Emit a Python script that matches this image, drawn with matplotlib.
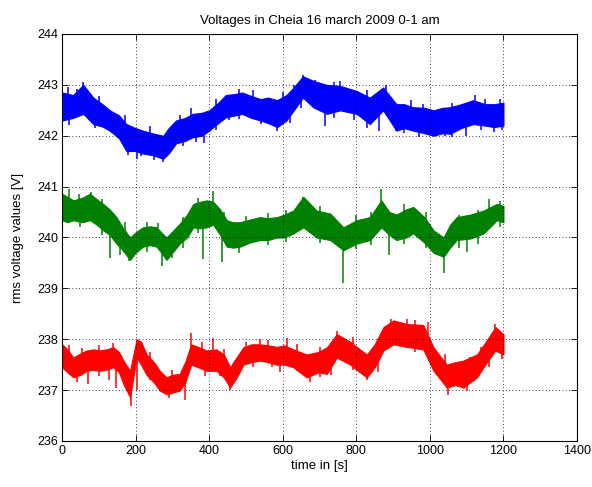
import matplotlib
matplotlib.use("Agg")
import matplotlib.pyplot as plt
import numpy as np

plt.rcParams["font.family"] = ["Liberation Sans", "DejaVu Sans"]

# envelope of each trace (time in s, lower / upper voltage)
blue_t = [0, 30, 58, 85, 110, 130, 155, 175, 200, 220, 245, 275, 290, 310, 335, 355, 380, 400, 425, 445,
          470, 490, 515, 540, 560, 585, 610, 630, 655, 683, 720, 756, 801, 837, 873, 909, 930, 955,
          985, 1010, 1035, 1055, 1085, 1118, 1150, 1174, 1200]
blue_lo = [242.30, 242.35, 242.43, 242.23, 242.18, 242.10, 241.95, 241.70, 241.70, 241.65, 241.62, 241.55,
           241.65, 241.85, 241.90, 241.97, 242.00, 242.10, 242.25, 242.36, 242.40, 242.43, 242.35, 242.30,
           242.25, 242.17, 242.30, 242.50, 242.75, 242.56, 242.43, 242.50, 242.43, 242.23, 242.50, 242.10,
           242.15, 242.10, 242.05, 242.00, 242.05, 242.04, 242.15, 242.23, 242.20, 242.17, 242.20]
blue_hi = [242.85, 242.80, 243.00, 242.75, 242.62, 242.50, 242.40, 242.23, 242.15, 242.10, 242.05, 242.00,
           242.15, 242.30, 242.35, 242.43, 242.45, 242.50, 242.65, 242.80, 242.82, 242.85, 242.78, 242.72,
           242.75, 242.70, 242.80, 242.95, 243.17, 243.08, 243.00, 242.98, 242.88, 242.75, 242.95, 242.62,
           242.62, 242.56, 242.55, 242.50, 242.55, 242.56, 242.62, 242.70, 242.62, 242.62, 242.65]

green_t = [0, 15, 31, 55, 76, 95, 112, 130, 148, 165, 185, 200, 220, 240, 257, 270, 284, 300, 320, 340,
           357, 375, 393, 411, 430, 448, 465, 484, 510, 538, 560, 584, 605, 629, 656, 692, 729, 765,
           801, 837, 868, 890, 909, 935, 955, 985, 1010, 1037, 1055, 1073, 1110, 1146, 1182, 1200]
green_lo = [240.34, 240.30, 240.34, 240.30, 240.34, 240.25, 240.14, 240.05, 239.88, 239.75, 239.56, 239.70,
            239.82, 239.85, 239.82, 239.70, 239.56, 239.70, 239.88, 240.00, 240.20, 240.18, 240.20, 240.25,
            240.05, 239.82, 239.80, 239.82, 239.90, 239.95, 239.95, 240.00, 240.00, 240.08, 240.20, 240.00,
            239.95, 239.75, 239.88, 239.95, 240.20, 240.05, 239.95, 240.00, 240.08, 239.90, 239.70, 239.62,
            239.80, 239.95, 239.98, 240.08, 240.34, 240.30]
green_hi = [240.86, 240.80, 240.73, 240.78, 240.86, 240.75, 240.66, 240.55, 240.40, 240.20, 240.00, 240.10,
            240.20, 240.22, 240.20, 240.10, 240.00, 240.12, 240.27, 240.45, 240.66, 240.70, 240.73, 240.70,
            240.55, 240.34, 240.30, 240.30, 240.35, 240.40, 240.38, 240.40, 240.45, 240.53, 240.80, 240.53,
            240.47, 240.20, 240.34, 240.40, 240.73, 240.50, 240.45, 240.55, 240.60, 240.40, 240.14, 240.00,
            240.25, 240.40, 240.45, 240.53, 240.66, 240.62]

red_t = [0, 15, 31, 50, 67, 85, 103, 120, 139, 155, 167, 185, 203, 215, 230, 250, 266, 284, 300, 320,
         335, 351, 370, 393, 420, 440, 457, 475, 493, 515, 538, 560, 584, 605, 629, 665, 697, 720, 747,
         784, 810, 829, 850, 874, 901, 937, 982, 1010, 1030, 1046, 1070, 1091, 1128, 1155, 1178, 1200]
red_lo = [237.45, 237.35, 237.25, 237.30, 237.38, 237.40, 237.38, 237.40, 237.45, 237.35, 237.12, 236.86,
          237.64, 237.50, 237.30, 237.15, 236.99, 236.92, 236.95, 236.99, 237.15, 237.50, 237.45, 237.38,
          237.38, 237.25, 237.05, 237.25, 237.50, 237.55, 237.58, 237.55, 237.50, 237.50, 237.45, 237.25,
          237.35, 237.32, 237.64, 237.50, 237.35, 237.25, 237.45, 237.78, 237.90, 237.85, 237.80, 237.38,
          237.20, 237.05, 237.10, 237.05, 237.25, 237.55, 237.78, 237.70]
red_hi = [237.90, 237.80, 237.64, 237.72, 237.78, 237.80, 237.78, 237.80, 237.84, 237.75, 237.58, 237.38,
          238.00, 237.95, 237.70, 237.55, 237.38, 237.25, 237.30, 237.32, 237.55, 237.90, 237.85, 237.78,
          237.80, 237.70, 237.45, 237.65, 237.84, 237.90, 237.90, 237.88, 237.85, 237.88, 237.80, 237.70,
          237.75, 237.84, 238.10, 237.95, 237.80, 237.70, 237.90, 238.24, 238.37, 238.30, 238.28, 237.84,
          237.65, 237.50, 237.55, 237.58, 237.70, 237.98, 238.24, 238.10]

# spikes sticking out of the traces (time, tip voltage)
blue_spike_t = [56, 130, 143, 205, 215, 275, 295, 365, 385, 455, 540, 584, 655, 687, 714, 756, 795,
                862, 880, 909, 1010, 1040, 1098, 1123, 1175,
                15, 40, 100, 170, 240, 320, 350, 420, 480, 520, 600, 630, 740, 830, 950, 980, 1060,
                1150, 1190, 20, 90, 180, 250, 330, 420, 480, 620, 650, 740, 830, 930, 970, 1060, 1140, 1195]
blue_spike_v = [243.05, 242.10, 242.05, 241.55, 241.60, 241.48, 241.70, 241.87, 241.85, 242.30, 242.23,
                242.10, 243.20, 243.10, 242.20, 243.08, 242.30, 242.10, 243.00, 242.10, 242.00, 242.00,
                242.00, 242.80, 242.07,
                242.95, 242.92, 242.78, 242.40, 242.20, 242.40, 242.55, 242.72, 242.92, 242.90, 242.85,
                243.00, 243.05, 242.90, 242.70, 242.62, 242.65, 242.72, 242.72,
                242.22, 242.15, 241.62, 241.52, 241.80, 242.12, 242.32, 242.25, 242.55, 242.35, 242.15,
                242.05, 241.98, 241.98, 242.12, 242.12]
green_spike_t = [20, 80, 130, 157, 182, 272, 298, 384, 411, 434, 656, 763, 868, 890, 1039, 1100, 1160,
                 45, 110, 170, 230, 260, 330, 370, 440, 500, 560, 610, 700, 800, 840, 930, 990, 1080, 1130,
                 1190, 50, 110, 230, 330, 370, 480, 560, 610, 700, 800, 840, 930, 990, 1080, 1130, 1190]
green_spike_v = [240.95, 240.89, 239.60, 239.65, 239.53, 239.43, 239.60, 239.58, 240.92, 239.52, 240.80,
                 239.10, 240.95, 239.65, 239.30, 239.72, 240.75,
                 240.85, 240.75, 240.30, 240.30, 240.28, 240.40, 240.78, 240.50, 240.42, 240.48, 240.55,
                 240.62, 240.45, 240.50, 240.65, 240.50, 240.45, 240.55, 240.72,
                 240.20, 240.05, 239.72, 239.80, 240.08, 239.70, 239.85, 239.92, 239.90, 239.78, 239.85,
                 239.88, 239.80, 239.80, 239.88, 240.20]
red_spike_t = [71, 127, 148, 188, 203, 334, 351, 411, 457, 538, 593, 611, 675, 730, 747, 828, 895, 937,
               995, 1050, 1100, 1178,
               20, 55, 100, 140, 240, 300, 380, 440, 500, 560, 640, 700, 790, 860, 960, 1040, 1110, 1140,
               40, 100, 240, 290, 390, 430, 520, 570, 640, 700, 790, 860, 960, 1120, 1160, 1195]
red_spike_v = [237.12, 237.20, 237.05, 236.69, 237.00, 236.80, 238.12, 238.02, 237.00, 238.00, 237.35,
               238.02, 237.15, 237.30, 238.17, 237.20, 238.40, 238.40, 238.33, 236.90, 236.99, 238.30,
               237.88, 237.82, 237.88, 237.92, 237.75, 237.40, 237.95, 237.80, 237.95, 237.98, 237.90,
               237.85, 238.05, 238.00, 238.38, 237.70, 237.65, 237.85,
               237.15, 237.28, 237.20, 236.85, 237.28, 237.28, 237.45, 237.45, 237.38, 237.25, 237.40,
               237.35, 237.75, 237.18, 237.45, 237.62]

series = [
    (blue_t, blue_lo, blue_hi, blue_spike_t, blue_spike_v, "#0000ff"),
    (green_t, green_lo, green_hi, green_spike_t, green_spike_v, "#008000"),
    (red_t, red_lo, red_hi, red_spike_t, red_spike_v, "#ff0000"),
]

fig = plt.figure(figsize=(5.92, 4.87), dpi=100)
ax = fig.add_axes([0.1047, 0.0945, 0.870, 0.8357])

for t, lo, hi, st, sv, color in series:
    ax.fill_between(t, lo, hi, color=color, linewidth=0.8, edgecolor=color)
    # each spike starts from the band centre at its time
    centre = (np.array(lo) + np.array(hi)) / 2
    ax.vlines(st, np.interp(st, t, centre), sv, color=color, linewidth=1.1)

ax.set_xlim(0, 1400)
ax.set_ylim(236, 244)
ax.set_xticks(range(0, 1401, 200))
ax.set_yticks(range(236, 245))
ax.grid(True, color="black", linestyle=(0, (1, 3)), linewidth=0.6)
ax.tick_params(direction="in", top=True, right=True, labelsize=9, length=4, width=0.6, pad=3)
for sp in ax.spines.values():
    sp.set_linewidth(0.8)

ax.set_title("Voltages in Cheia 16 march 2009 0-1 am", fontsize=9.5, pad=7)
ax.set_xlabel("time in [s]", fontsize=9.5, labelpad=2)
ax.set_ylabel("rms voltage values [V]", fontsize=9.5, labelpad=9)

fig.savefig("out.png", dpi=100)
